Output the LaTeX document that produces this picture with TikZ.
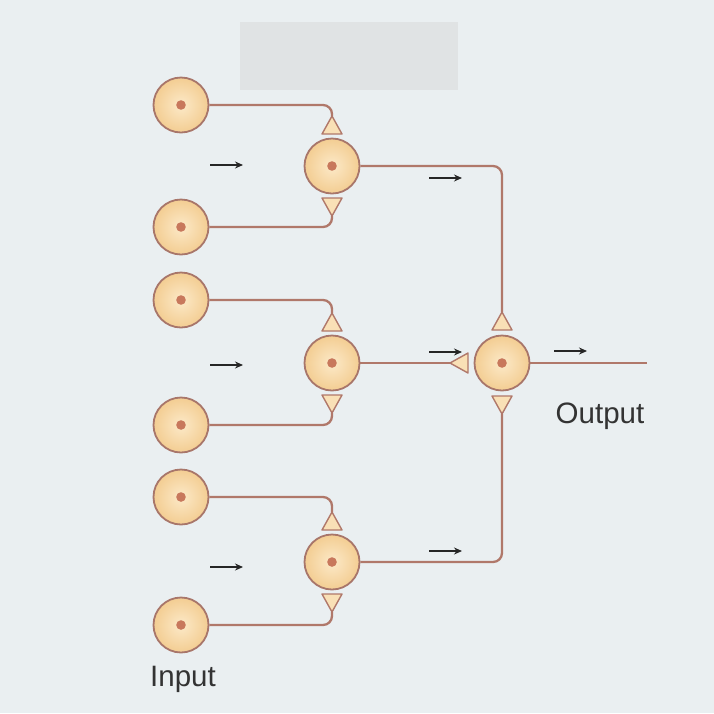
\documentclass[tikz,border=0pt]{standalone}
\usepackage{fontspec}
\setmainfont{Liberation Sans}
\usetikzlibrary{arrows.meta}
\definecolor{bg}{HTML}{EAEFF1}
\definecolor{redact}{HTML}{E0E3E4}
\definecolor{cellin}{HTML}{FCE9C8}
\definecolor{cellout}{HTML}{F3CD92}
\definecolor{cellrim}{HTML}{A8766A}
\definecolor{axon}{HTML}{B0786A}
\definecolor{dotc}{HTML}{C8785C}
\definecolor{synfill}{HTML}{F9E0B6}
\definecolor{txt}{HTML}{333333}
\tikzset{
  neuron/.style={circle, minimum size=55pt, inner sep=0pt, draw=cellrim, line width=1.8pt,
    inner color=cellin, outer color=cellout},
  conn/.style={draw=axon, line width=2.3pt, rounded corners=9pt},
  syn/.style={fill=synfill, draw=axon, line width=1.4pt, line join=round},
  flow/.style={-{Stealth[length=8pt,width=7pt]}, line width=1.4pt, black!85},
  lbl/.style={font=\fontsize{29.5}{34}\selectfont, text=txt, inner sep=0pt}
}
\newcommand{\soma}[3]{%
  \node[neuron] (#1) at (#2,#3) {};
  \fill[dotc] (#1.center) circle (4.8pt);}
\begin{document}
\begin{tikzpicture}[x=1pt,y=-1pt]
\fill[bg] (0,0) rectangle (714,713);
\useasboundingbox (0,0) rectangle (714,713);
\fill[redact] (240,22) rectangle (458,90);

% input neurons
\soma{i1}{181}{105}
\soma{i2}{181}{227}
\soma{i3}{181}{300}
\soma{i4}{181}{425}
\soma{i5}{181}{497}
\soma{i6}{181}{625}
% middle neurons
\soma{m1}{332}{166}
\soma{m2}{332}{363}
\soma{m3}{332}{562}
% output neuron
\soma{o}{502}{363}

% synapse tips (apex coordinates)
\foreach \m in {m1,m2,m3}{
  \path (\m.center) ++(0,-50) coordinate (\m-top);
  \path (\m.center) ++(0,50) coordinate (\m-bot);
  \filldraw[syn] (\m-top) -- ++(-10,18) -- ++(20,0) -- cycle;
  \filldraw[syn] (\m-bot) -- ++(-10,-18) -- ++(20,0) -- cycle;
}
\path (o.center) ++(0,-51) coordinate (o-top);
\path (o.center) ++(0,51) coordinate (o-bot);
\path (o.center) ++(-52,0) coordinate (o-left);
\filldraw[syn] (o-top) -- ++(-10,18) -- ++(20,0) -- cycle;
\filldraw[syn] (o-bot) -- ++(-10,-18) -- ++(20,0) -- cycle;
\filldraw[syn] (o-left) -- ++(18,-10) -- ++(0,20) -- cycle;

% connectors
\draw[conn] (i1.east) -| (m1-top);
\draw[conn] (i2.east) -| (m1-bot);
\draw[conn] (i3.east) -| (m2-top);
\draw[conn] (i4.east) -| (m2-bot);
\draw[conn] (i5.east) -| (m3-top);
\draw[conn] (i6.east) -| (m3-bot);
\draw[conn] (m1.east) -| (o-top);
\draw[conn] (m3.east) -| (o-bot);
\draw[conn] (m2.east) -- (o-left);
\coordinate (out) at (647,363);
\draw[conn] (o.east) -- (out);

% direction arrows
\draw[flow] (210,165) -- (243,165);
\draw[flow] (210,365) -- (243,365);
\draw[flow] (210,567) -- (243,567);
\draw[flow] (429,178) -- (462,178);
\draw[flow] (429,352) -- (462,352);
\draw[flow] (429,551) -- (462,551);
\draw[flow] (554,351) -- (587,351);

% labels
\node[lbl, anchor=base] (outlbl) at (600,423) {Output};
\node[lbl, anchor=base] (inlbl) at (183,686) {Input};
\end{tikzpicture}
\end{document}
